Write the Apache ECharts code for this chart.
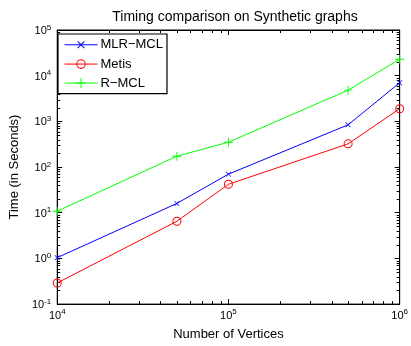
<!DOCTYPE html>
<html>
<head>
<meta charset="utf-8">
<script src="https://cdn.jsdelivr.net/npm/echarts@6/dist/echarts.min.js"></script>
<style>
  html, body {margin: 0; padding: 0; background: #fff;}
  #main {width: 411px; height: 346px;}
</style>
</head>
<body>
<div id="main"></div>
<script>
const vertices = [1e4, 5e4, 1e5, 5e5, 1e6];
const mlrMcl = [1.04, 16, 70, 840, 7000];
const metis = [0.29, 6.5, 42, 322, 1890];
const rMcl = [10.8, 173, 350, 4820, 22900];

const xDecades = [1e4, 1e5];
const yDecades = [0.1, 1, 10, 100, 1000, 1e4];
const minorSteps = [2, 3, 4, 5, 6, 7, 8, 9];

const FONT = 'Liberation Sans, Arial, sans-serif';
const plusPath = 'path://M4.5,0h1v4.5h4.5v1h-4.5v4.5h-1v-4.5h-4.5v-1h4.5z';
const ringPath = 'path://M5,0A5,5,0,1,1,5,10A5,5,0,1,1,5,0ZM5,1.1A3.9,3.9,0,1,0,5,8.9A3.9,3.9,0,1,0,5,1.1Z';

function pow10(v) {
  const e = Math.round(Math.log10(v));
  return '{b|10}{s|' + e + '}';
}
const labelRich = {
  b: {fontSize: 11, fontFamily: FONT, color: '#000', verticalAlign: 'bottom', lineHeight: 13},
  s: {fontSize: 8, fontFamily: FONT, color: '#000', verticalAlign: 'top', padding: [0, 0, 7, 0], lineHeight: 9}
};

function pairs(ys) {
  return vertices.map((x, i) => [x, ys[i]]);
}

const xMinor = [];
xDecades.forEach(d => minorSteps.forEach(m => xMinor.push(d * m)));
const yMinor = [];
yDecades.forEach(d => minorSteps.forEach(m => yMinor.push(d * m)));

function logAxis(extra) {
  return Object.assign({
    type: 'log',
    logBase: 10,
    axisLine: {show: true, lineStyle: {color: '#000', width: 1}},
    axisTick: {show: true, inside: true, length: 5, lineStyle: {color: '#000'}},
    splitLine: {show: false},
    nameTextStyle: {fontSize: 13, fontFamily: FONT, color: '#000'}
  }, extra);
}

// small log ticks at 2..9 of each decade, on both sides of the box
function minorTicks(isX) {
  return function (params, api) {
    const cs = params.coordSys;
    const v = api.value(0);
    const len = 3;
    const style = {stroke: '#000', lineWidth: 1};
    let a, b;
    if (isX) {
      const x = Math.round(api.coord([v, 1])[0]) + 0.5;
      const y0 = cs.y, y1 = cs.y + cs.height;
      a = {x1: x, y1: y1, x2: x, y2: y1 - len};
      b = {x1: x, y1: y0, x2: x, y2: y0 + len};
    } else {
      const y = Math.round(api.coord([1e4, v])[1]) + 0.5;
      const x0 = cs.x, x1 = cs.x + cs.width;
      a = {x1: x0, y1: y, x2: x0 + len, y2: y};
      b = {x1: x1, y1: y, x2: x1 - len, y2: y};
    }
    return {
      type: 'group',
      children: [
        {type: 'line', shape: a, style: style},
        {type: 'line', shape: b, style: style}
      ]
    };
  };
}

const chart = echarts.init(document.getElementById('main'));
chart.setOption({
  animation: false,
  backgroundColor: '#fff',
  title: {
    text: 'Timing comparison on Synthetic graphs',
    left: 230, top: 5, textAlign: 'center',
    textStyle: {fontSize: 14, fontWeight: 'normal', fontFamily: FONT, color: '#000'}
  },
  grid: {left: 54, right: 6, top: 30, bottom: 35, show: true, borderColor: '#000', borderWidth: 1},
  legend: {
    left: 58, top: 34,
    orient: 'vertical',
    backgroundColor: '#fff',
    borderColor: '#000', borderWidth: 1.2,
    padding: [4, 4, 4, 6],
    itemGap: 6,
    itemWidth: 33, itemHeight: 12,
    lineStyle: {width: 1},
    textStyle: {fontSize: 13, fontFamily: FONT, color: '#000', padding: [0, 0, 0, -2]},
    data: ['MLR−MCL', 'Metis', 'R−MCL']
  },
  xAxis: [
    logAxis({
      min: 1e4, max: 1e6,
      name: 'Number of Vertices', nameLocation: 'middle', nameGap: 22,
      axisLabel: {formatter: pow10, rich: labelRich, margin: 4}
    }),
    logAxis({
      min: 1e4, max: 1e6, position: 'top',
      axisLabel: {show: false}
    })
  ],
  yAxis: [
    logAxis({
      min: 0.1, max: 1e5,
      name: 'Time (in Seconds)', nameLocation: 'middle', nameGap: 30,
      axisLabel: {formatter: pow10, rich: labelRich, margin: 6}
    }),
    logAxis({
      min: 0.1, max: 1e5, position: 'right',
      axisLabel: {show: false}
    })
  ],
  series: [
    {
      type: 'custom', silent: true, z: 1,
      data: xMinor.map(v => [v]),
      renderItem: minorTicks(true)
    },
    {
      type: 'custom', silent: true, z: 1,
      data: yMinor.map(v => [v]),
      renderItem: minorTicks(false)
    },
    {
      name: 'MLR−MCL', type: 'line', data: pairs(mlrMcl),
      symbol: plusPath, symbolRotate: 45, symbolSize: 7,
      lineStyle: {color: '#0000ff', width: 1},
      itemStyle: {color: '#0000ff'}
    },
    {
      name: 'Metis', type: 'line', data: pairs(metis),
      symbol: ringPath, symbolSize: 9,
      lineStyle: {color: '#ff0000', width: 1},
      itemStyle: {color: '#ff0000'}
    },
    {
      name: 'R−MCL', type: 'line', data: pairs(rMcl),
      symbol: plusPath, symbolSize: 9,
      lineStyle: {color: '#00ff00', width: 1},
      itemStyle: {color: '#00ff00'}
    }
  ]
});
</script>
</body>
</html>
